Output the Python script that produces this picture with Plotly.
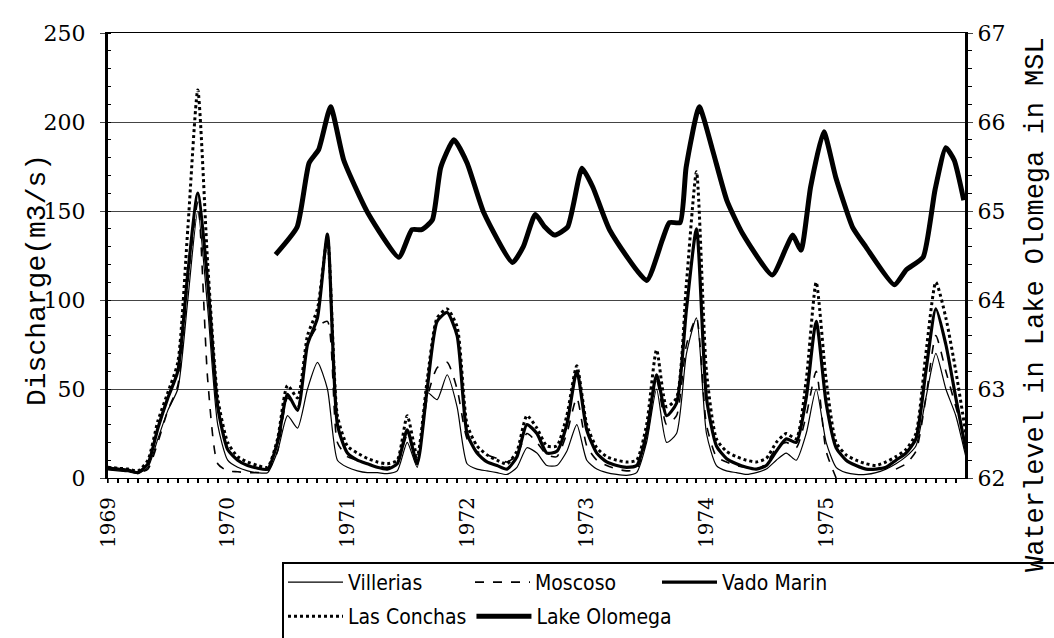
import plotly.graph_objects as go

# monthly time axis (decimal years), Jan 1969 .. Mar 1976
months = [1969 + i / 12 for i in range(87)]

villerias = [4.5, 4, 3.5, 2.5, 6, 22, 38, 50, 100, 150, 95, 30,
             10, 6, 4, 3, 3, 15, 35, 28, 50, 65, 50, 10,
             6, 4, 3, 3, 2.5, 4, 20, 6, 48, 44, 58, 40,
             8, 5, 4, 3, 2, 6, 17, 14, 7, 7, 15, 30,
             10, 5, 3, 2, 1.5, 3, 20, 50, 20, 25, 70, 90,
             25, 7, 4, 3, 2, 3, 5, 10, 14, 10, 25, 50,
             20, 6, 3, 2, 2, 3, 5, 8, 12, 18, 45, 70,
             50, 35, 12]

moscoso = [5, 4.5, 4, 3, 5, 20, 38, 52, 110, 155, 55, 8,
           4, 3.5, 3, 3, 4, 15, 45, 40, 75, 85, 88, 20,
           12, 10, 8, 7, 6, 8, 24, 10, 45, 62, 65, 50,
           22, 15, 13, 11, 9, 13, 25, 20, 13, 12, 25, 45,
           18, 10, 7, 5, 4, 5, 22, 55, 30, 35, 75, 90,
           30, 12, 9, 7, 6, 5, 8, 17, 20, 17, 35, 60,
           15, 0, None, None, None, None, None, 5, 8, 15, 45, 80,
           60, 40, 20]

vado_marin = [5.5, 5, 4.5, 3, 8, 28, 45, 60, 115, 160, 110, 40,
              16, 10, 7, 5.5, 5, 20, 47, 38, 75, 90, 137, 30,
              14, 10, 8, 6, 5, 8, 27, 8, 50, 88, 93, 80,
              25, 14, 9, 7, 5, 12, 30, 25, 14, 15, 30, 60,
              27, 14, 9, 7, 6, 7, 25, 58, 35, 42, 95, 140,
              45, 18, 11, 8, 6, 5, 7, 15, 22, 20, 45, 88,
              42, 17, 10, 7, 5, 5, 6, 10, 14, 22, 60, 95,
              75, 45, 16]

las_conchas = [6, 5.5, 5, 4, 10, 32, 48, 65, 140, 218, 120, 45,
               20, 12, 9, 7, 6, 22, 52, 45, 80, 95, 135, 35,
               18, 14, 11, 9, 8, 10, 35, 12, 55, 90, 95, 85,
               30, 18, 13, 10, 8, 15, 35, 28, 18, 18, 35, 63,
               30, 17, 12, 10, 9, 10, 30, 72, 40, 45, 110, 172,
               60, 22, 15, 12, 10, 9, 11, 20, 25, 22, 55, 110,
               55, 20, 13, 10, 8, 7, 9, 12, 16, 25, 70, 110,
               90, 60, 25]

lake_time = [1970.40, 1970.58, 1970.68, 1970.76, 1970.86, 1970.97, 1971.17,
             1971.43, 1971.54, 1971.62, 1971.71, 1971.78, 1971.89, 1972.00,
             1972.14, 1972.38, 1972.47, 1972.57, 1972.65, 1972.73, 1972.84,
             1972.96, 1973.05, 1973.19, 1973.50, 1973.63, 1973.69, 1973.78,
             1973.83, 1973.94, 1974.05, 1974.17, 1974.30, 1974.55, 1974.67,
             1974.72, 1974.79, 1974.87, 1974.98, 1975.08, 1975.22, 1975.33,
             1975.57, 1975.67, 1975.81, 1975.91, 1976.00, 1976.07, 1976.15]
lake_level = [64.51, 64.82, 65.54, 65.69, 66.17, 65.57, 64.98,
              64.48, 64.79, 64.79, 64.90, 65.49, 65.80, 65.54,
              64.98, 64.42, 64.60, 64.96, 64.82, 64.73, 64.82,
              65.48, 65.27, 64.79, 64.22, 64.67, 64.87, 64.87,
              65.49, 66.17, 65.69, 65.12, 64.75, 64.28, 64.60,
              64.73, 64.56, 65.27, 65.89, 65.38, 64.82, 64.60,
              64.17, 64.34, 64.48, 65.24, 65.71, 65.57, 65.12]

year_ticks = [1969, 1970, 1971, 1972, 1973, 1974, 1975]
year_labels = ["1969", "1970", "1971", "1972", "1973", "1974", "1975"]

L, R, T, B = 108, 89, 33, 160
W, H = 1054, 638
PW, PH = W - L - R, H - T - B


def px(x):
    return (x - L) / PW


def py(y):
    return (H - B - y) / PH


SM = 0.6
fig = go.Figure()
fig.add_trace(go.Scatter(x=months, y=villerias, name="Villerias", mode="lines", legend="legend",
                         line=dict(color="black", width=1.2, shape="spline", smoothing=SM)))
fig.add_trace(go.Scatter(x=months, y=moscoso, name="Moscoso", mode="lines", legend="legend",
                         line=dict(color="black", width=1.6, dash="dash", shape="spline", smoothing=SM)))
fig.add_trace(go.Scatter(x=months, y=vado_marin, name="Vado Marin", mode="lines", legend="legend",
                         line=dict(color="black", width=3.2, shape="spline", smoothing=SM)))
fig.add_trace(go.Scatter(x=months, y=las_conchas, name="Las Conchas", mode="lines", legend="legend2",
                         line=dict(color="black", width=3, dash="dot", shape="spline", smoothing=SM)))
fig.add_trace(go.Scatter(x=lake_time, y=lake_level, name="Lake Olomega", mode="lines",
                         yaxis="y2", legend="legend2",
                         line=dict(color="black", width=5, shape="spline", smoothing=0.5)))

ytickfont = dict(family="DejaVu Serif", size=22, color="black")
xtickfont = dict(family="DejaVu Serif", size=20, color="black")
titlefont = dict(family="Liberation Mono", size=28, color="black")
legfont = dict(family="DejaVu Sans Condensed, Liberation Mono", size=21, color="black")

fig.update_layout(
    width=W, height=H,
    margin=dict(l=L, r=R, t=T, b=B, autoexpand=False),
    paper_bgcolor="white", plot_bgcolor="white",
    showlegend=True,
    legend=dict(x=px(283), y=py(562), orientation="h", xanchor="left", yanchor="top",
                entrywidth=117, entrywidthmode="pixels", itemwidth=55,
                font=legfont, bgcolor="rgba(0,0,0,0)", borderwidth=0),
    legend2=dict(x=px(283), y=py(596), orientation="h", xanchor="left", yanchor="top",
                 itemwidth=55, font=legfont, bgcolor="rgba(0,0,0,0)", borderwidth=0),
    xaxis=dict(range=[1969, 1976.16], tickvals=year_ticks, ticktext=year_labels,
               tickangle=-90, tickfont=xtickfont, ticks="outside", ticklen=4,
               ticklabelstandoff=6,
               showline=True, linecolor="black", linewidth=1, mirror=True,
               showgrid=False, zeroline=False,
               minor=dict(dtick=1 / 12, tick0=1969, ticks="outside", ticklen=4,
                          tickwidth=2, tickcolor="black", showgrid=False)),
    yaxis=dict(range=[0, 250], tickvals=[0, 50, 100, 150, 200, 250], tickfont=ytickfont,
               ticks="outside", ticklen=5, ticklabelstandoff=10,
               showline=True, linecolor="black", linewidth=3,
               showgrid=True, gridcolor="#444444", gridwidth=1, zeroline=False,
               minor=dict(dtick=10, ticks="inside", ticklen=3, tickcolor="black", showgrid=False)),
    yaxis2=dict(range=[62, 67], tickvals=[62, 63, 64, 65, 66, 67], tickfont=ytickfont,
                overlaying="y", side="right", ticks="outside", ticklen=5,
                showline=True, linecolor="black", linewidth=3, showgrid=False, zeroline=False,
                minor=dict(dtick=0.2, ticks="outside", ticklen=4, tickcolor="black")),
    annotations=[
        dict(text="Discharge(m3/s)", x=px(37), y=py(280), xref="paper", yref="paper",
             textangle=-90, showarrow=False, xanchor="center", yanchor="middle", font=titlefont),
        dict(text="Waterlevel in Lake Olomega in MSL", x=px(1036), y=py(305), xref="paper",
             yref="paper", textangle=-90, showarrow=False, xanchor="center", yanchor="middle",
             font=dict(family="Liberation Mono", size=27, color="black")),
    ],
    shapes=[
        dict(type="rect", xref="paper", yref="paper", x0=px(283), x1=px(1070),
             y0=py(563), y1=py(650), line=dict(color="black", width=2), layer="above"),
    ],
)

fig.write_html("out.html")
